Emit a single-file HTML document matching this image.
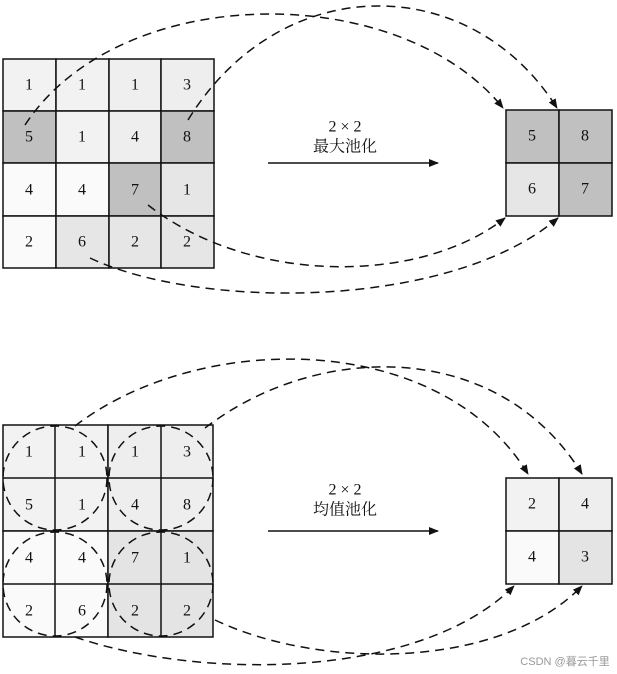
<!DOCTYPE html>
<html><head><meta charset="utf-8"><style>
html,body{margin:0;padding:0;background:#fff;}
svg{display:block;}
text{font-family:"Liberation Serif","Noto Serif CJK SC",serif;font-size:16px;fill:#111;text-anchor:middle;dominant-baseline:central;}
</style></head><body>
<svg width="617" height="674" viewBox="0 0 617 674" xmlns="http://www.w3.org/2000/svg">
<defs><marker id="a" markerWidth="10" markerHeight="8" refX="9" refY="4" orient="auto" markerUnits="userSpaceOnUse"><path d="M0,0 L10,4 L0,8 z" fill="#111"/></marker></defs>
<g stroke="#111" stroke-width="1.5">
<rect x="3" y="59" width="53" height="52" fill="#f2f2f2"/><rect x="56" y="59" width="53" height="52" fill="#f2f2f2"/><rect x="109" y="59" width="52" height="52" fill="#efefef"/><rect x="161" y="59" width="53" height="52" fill="#eeeeee"/>
<rect x="3" y="111" width="53" height="52" fill="#c0c0c0"/><rect x="56" y="111" width="53" height="52" fill="#f2f2f2"/><rect x="109" y="111" width="52" height="52" fill="#eeeeee"/><rect x="161" y="111" width="53" height="52" fill="#c0c0c0"/>
<rect x="3" y="163" width="53" height="53" fill="#fafafa"/><rect x="56" y="163" width="53" height="53" fill="#fafafa"/><rect x="109" y="163" width="52" height="53" fill="#c0c0c0"/><rect x="161" y="163" width="53" height="53" fill="#e6e6e6"/>
<rect x="3" y="216" width="53" height="52" fill="#fafafa"/><rect x="56" y="216" width="53" height="52" fill="#e6e6e6"/><rect x="109" y="216" width="52" height="52" fill="#e6e6e6"/><rect x="161" y="216" width="53" height="52" fill="#e6e6e6"/>
<rect x="506" y="110" width="53" height="53" fill="#c0c0c0"/><rect x="559" y="110" width="53" height="53" fill="#c0c0c0"/>
<rect x="506" y="163" width="53" height="53" fill="#e6e6e6"/><rect x="559" y="163" width="53" height="53" fill="#c0c0c0"/>
</g>
<text x="29" y="85">1</text><text x="82" y="85">1</text><text x="135" y="85">1</text><text x="187" y="85">3</text>
<text x="29" y="137">5</text><text x="82" y="137">1</text><text x="135" y="137">4</text><text x="187" y="137">8</text>
<text x="29" y="190">4</text><text x="82" y="190">4</text><text x="135" y="190">7</text><text x="187" y="190">1</text>
<text x="29" y="242">2</text><text x="82" y="242">6</text><text x="135" y="242">2</text><text x="187" y="242">2</text>
<text x="532" y="136">5</text><text x="585" y="136">8</text><text x="532" y="189">6</text><text x="585" y="189">7</text>
<text x="345" y="127">2 × 2</text><text x="345" y="147">最大池化</text>
<line x1="268" y1="163" x2="438" y2="163" stroke="#111" stroke-width="1.5" marker-end="url(#a)"/>
<g stroke="#111" stroke-width="1.5">
<rect x="3" y="425" width="105" height="106" fill="#f2f2f2"/><rect x="108" y="425" width="105" height="106" fill="#eeeeee"/>
<rect x="3" y="531" width="105" height="106" fill="#fafafa"/><rect x="108" y="531" width="105" height="106" fill="#e4e4e4"/>
<path d="M55,425V637M161,425V637M3,478H213M3,584H213" fill="none"/>
<rect x="506" y="478" width="53" height="53" fill="#f2f2f2"/><rect x="559" y="478" width="53" height="53" fill="#eeeeee"/>
<rect x="506" y="531" width="53" height="53" fill="#fafafa"/><rect x="559" y="531" width="53" height="53" fill="#e4e4e4"/>
</g>
<text x="29" y="452">1</text><text x="82" y="452">1</text><text x="135" y="452">1</text><text x="187" y="452">3</text>
<text x="29" y="505">5</text><text x="82" y="505">1</text><text x="135" y="505">4</text><text x="187" y="505">8</text>
<text x="29" y="558">4</text><text x="82" y="558">4</text><text x="135" y="558">7</text><text x="187" y="558">1</text>
<text x="29" y="611">2</text><text x="82" y="611">6</text><text x="135" y="611">2</text><text x="187" y="611">2</text>
<text x="532" y="504">2</text><text x="585" y="504">4</text><text x="532" y="557">4</text><text x="585" y="557">3</text>
<text x="345" y="490">2 × 2</text><text x="345" y="510">均值池化</text>
<line x1="268" y1="531" x2="438" y2="531" stroke="#111" stroke-width="1.5" marker-end="url(#a)"/>
<g fill="none" stroke="#111" stroke-width="1.5" stroke-dasharray="9,6">
<circle cx="55" cy="478" r="52"/><circle cx="161" cy="478" r="52"/><circle cx="55" cy="584" r="52"/><circle cx="161" cy="584" r="52"/>
<path d="M25,125 C120,-20 400,-20 503,108" marker-end="url(#a)"/>
<path d="M188,120 C280,-30 470,-30 557,108" marker-end="url(#a)"/>
<path d="M148,205 C250,285 420,285 505,218" marker-end="url(#a)"/>
<path d="M90,258 C200,310 450,310 558,218" marker-end="url(#a)"/>
<path d="M75,426 C200,330 440,330 528,474" marker-end="url(#a)"/>
<path d="M205,428 C320,340 500,340 582,474" marker-end="url(#a)"/>
<path d="M75,637 C200,680 420,680 514,586" marker-end="url(#a)"/>
<path d="M215,620 C320,670 500,670 582,586" marker-end="url(#a)"/>
</g>
<text x="565" y="662" style="font-family:'Liberation Sans','Noto Sans CJK SC',sans-serif;font-size:11px;fill:#999">CSDN @暮云千里</text>
</svg>
</body></html>
